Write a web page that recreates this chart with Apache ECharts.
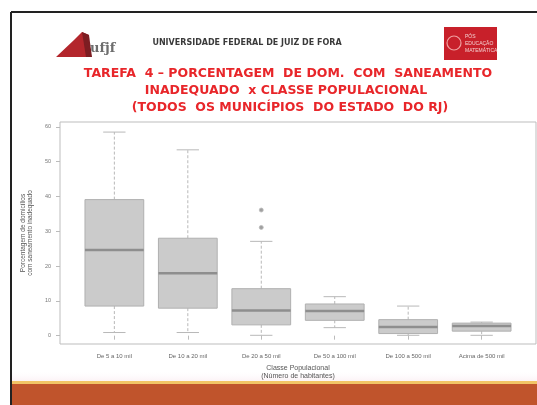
<!DOCTYPE html>
<html>
<head>
<meta charset="utf-8">
<script src="https://cdn.jsdelivr.net/npm/echarts@6/dist/echarts.min.js"></script>
<style>
html,body{margin:0;padding:0;background:#fff;}
#chart{width:537px;height:405px;}
</style>
</head>
<body>
<div id="chart"></div>
<script>
// Population classes (x positions 1..6)
const categories = ['De 5 a 10 mil', 'De 10 a 20 mil', 'De 20 a 50 mil', 'De 50 a 100 mil', 'De 100 a 500 mil', 'Acima de 500 mil'];
// Five-number summaries per class: [lower whisker, Q1, median, Q3, upper whisker]
const whiskerLow = [0.9, 0.9, 0.1, 2.3, 0.1, 0.1];
const quartile1  = [8.5, 7.9, 3.1, 4.4, 0.6, 1.3];
const medians    = [24.6, 17.9, 7.2, 7.1, 2.5, 2.8];
const quartile3  = [39.1, 28.0, 13.5, 9.1, 4.6, 3.6];
const whiskerHigh= [58.5, 53.4, 27.1, 11.2, 8.5, 3.9];
// Outlying municipalities: [class index (1-based), value]
const outliers = [[3, 36.1], [3, 31.1]];
// Y tick labels
const yTicks = [0, 10, 20, 30, 40, 50, 60];

const boxData = categories.map((c, i) => [i + 1, whiskerLow[i], quartile1[i], medians[i], quartile3[i], whiskerHigh[i]]);

const chart = echarts.init(document.getElementById('chart'));

function renderBox(params, api) {
  const x = api.value(0);
  const pLow = api.coord([x, api.value(1)]);
  const pQ1 = api.coord([x, api.value(2)]);
  const pMed = api.coord([x, api.value(3)]);
  const pQ3 = api.coord([x, api.value(4)]);
  const pHigh = api.coord([x, api.value(5)]);
  const w = api.size([0.8, 0])[0];
  const cap = w * 0.38;
  const cx = pMed[0];
  const whisk = { stroke: '#b8b8b8', lineWidth: 1, lineDash: [3, 2] };
  const staple = { stroke: '#b8b8b8', lineWidth: 1 };
  return {
    type: 'group',
    children: [
      { type: 'line', shape: { x1: cx, y1: pQ3[1], x2: cx, y2: pHigh[1] }, style: whisk },
      { type: 'line', shape: { x1: cx, y1: pQ1[1], x2: cx, y2: pLow[1] }, style: whisk },
      { type: 'line', shape: { x1: cx - cap / 2, y1: pHigh[1], x2: cx + cap / 2, y2: pHigh[1] }, style: staple },
      { type: 'line', shape: { x1: cx - cap / 2, y1: pLow[1], x2: cx + cap / 2, y2: pLow[1] }, style: staple },
      { type: 'rect', shape: { x: cx - w / 2, y: pQ3[1], width: w, height: pQ1[1] - pQ3[1] },
        style: { fill: '#cbcbcb', stroke: '#b0b0b0', lineWidth: 1 } },
      { type: 'line', shape: { x1: cx - w / 2, y1: pMed[1], x2: cx + w / 2, y2: pMed[1] },
        style: { stroke: '#8e8e8e', lineWidth: 2.5 } }
    ]
  };
}

const titleStyle = { fill: '#e8262a', font: 'bold 12.5px "DejaVu Sans", sans-serif', textAlign: 'center' };

chart.setOption({
  backgroundColor: '#ffffff',
  animation: false,
  grid: { left: 60, right: 1, top: 122, bottom: 61, show: true, borderColor: '#bdbdbd', borderWidth: 1, backgroundColor: 'transparent' },
  xAxis: {
    type: 'value', min: 0.26, max: 6.74,
    name: 'Classe Populacional\n(Número de habitantes)',
    nameLocation: 'middle', nameGap: 19,
    nameTextStyle: { color: '#555', fontSize: 7, lineHeight: 8, fontFamily: 'Liberation Sans' },
    splitLine: { show: false },
    axisLine: { show: false },
    axisTick: { show: true, length: 4, lineStyle: { color: '#bbb' }, customValues: [1, 2, 3, 4, 5, 6] },
    axisLabel: { customValues: [1, 2, 3, 4, 5, 6], color: '#666', fontSize: 6, margin: 9,
      fontFamily: 'Liberation Sans', formatter: v => categories[Math.round(v) - 1] }
  },
  yAxis: {
    type: 'value', min: -2.4, max: 61.4,
    name: 'Porcentagem de domicílios\ncom saneamento inadequado',
    nameLocation: 'middle', nameGap: 20, nameRotate: 90,
    nameTextStyle: { color: '#555', fontSize: 6.5, lineHeight: 7, fontFamily: 'Liberation Sans' },
    splitLine: { show: false },
    axisLine: { show: false },
    axisTick: { show: true, length: 4, lineStyle: { color: '#bbb' }, customValues: yTicks },
    axisLabel: { customValues: yTicks, color: '#777', fontSize: 5.5, margin: 9, fontFamily: 'Liberation Sans' }
  },
  series: [
    { type: 'custom', renderItem: renderBox, data: boxData, encode: { x: 0, y: [1, 2, 3, 4, 5] }, z: 2 },
    { type: 'scatter', data: outliers, symbol: 'circle', symbolSize: 4,
      itemStyle: { color: '#888', borderColor: '#bbb', borderWidth: 1 }, z: 3 }
  ],
  graphic: [
    // slide frame
    { type: 'line', shape: { x1: 11, y1: 12, x2: 11, y2: 405 }, style: { stroke: '#222', lineWidth: 2 }, z: 10 },
    { type: 'line', shape: { x1: 11, y1: 12, x2: 537, y2: 12 }, style: { stroke: '#222', lineWidth: 2 }, z: 10 },
    // footer band
    { type: 'rect', shape: { x: 12, y: 370, width: 525, height: 12 },
      style: { fill: new echarts.graphic.LinearGradient(0, 0, 0, 1, [{ offset: 0, color: 'rgba(255,255,255,0)' }, { offset: 1, color: '#fbf0f4' }]) }, z: -1 },
    { type: 'rect', shape: { x: 12, y: 381, width: 525, height: 3 }, style: { fill: '#f2c466' }, z: 5 },
    { type: 'rect', shape: { x: 12, y: 384, width: 525, height: 21 }, style: { fill: '#c0542c' }, z: 5 },
    // left emblem
    { type: 'polygon', shape: { points: [[56, 57], [74, 40], [82, 32], [89, 35], [86, 57]] }, style: { fill: '#b3262c' }, z: 6 },
    { type: 'polygon', shape: { points: [[82, 32], [89, 35], [92, 57], [86, 57]] }, style: { fill: '#7c1d22' }, z: 6 },
    { type: 'text', x: 90, y: 42, style: { text: 'ufjf', fill: '#6d6d6d', font: 'bold 13px "DejaVu Serif", serif' }, z: 6 },
    // header
    { type: 'text', x: 247, y: 39, style: { text: 'UNIVERSIDADE FEDERAL DE JUIZ DE FORA', fill: '#3a3a3a', font: 'bold 8px "DejaVu Sans", sans-serif', textAlign: 'center' }, z: 6 },
    // right emblem
    { type: 'rect', shape: { x: 444, y: 27, width: 53, height: 33 }, style: { fill: '#c8202a' }, z: 6 },
    { type: 'text', x: 465, y: 33, style: { text: 'PÓS\nEDUCAÇÃO\nMATEMÁTICA', fill: '#f3d0d0', font: '5px "Liberation Sans", sans-serif', lineHeight: 7 }, z: 7 },
    { type: 'circle', shape: { cx: 454, cy: 43, r: 7 }, style: { fill: 'none', stroke: '#f0a0a0', lineWidth: 1.2 }, z: 7 },
    // title lines
    { type: 'text', x: 288, y: 67, style: Object.assign({ text: 'TAREFA  4 – PORCENTAGEM  DE DOM.  COM  SANEAMENTO' }, titleStyle), z: 6 },
    { type: 'text', x: 286, y: 84, style: Object.assign({ text: 'INADEQUADO  x CLASSE POPULACIONAL' }, titleStyle), z: 6 },
    { type: 'text', x: 290, y: 101, style: Object.assign({ text: '(TODOS  OS MUNICÍPIOS  DO ESTADO  DO RJ)' }, titleStyle), z: 6 }
  ]
});
</script>
</body>
</html>
